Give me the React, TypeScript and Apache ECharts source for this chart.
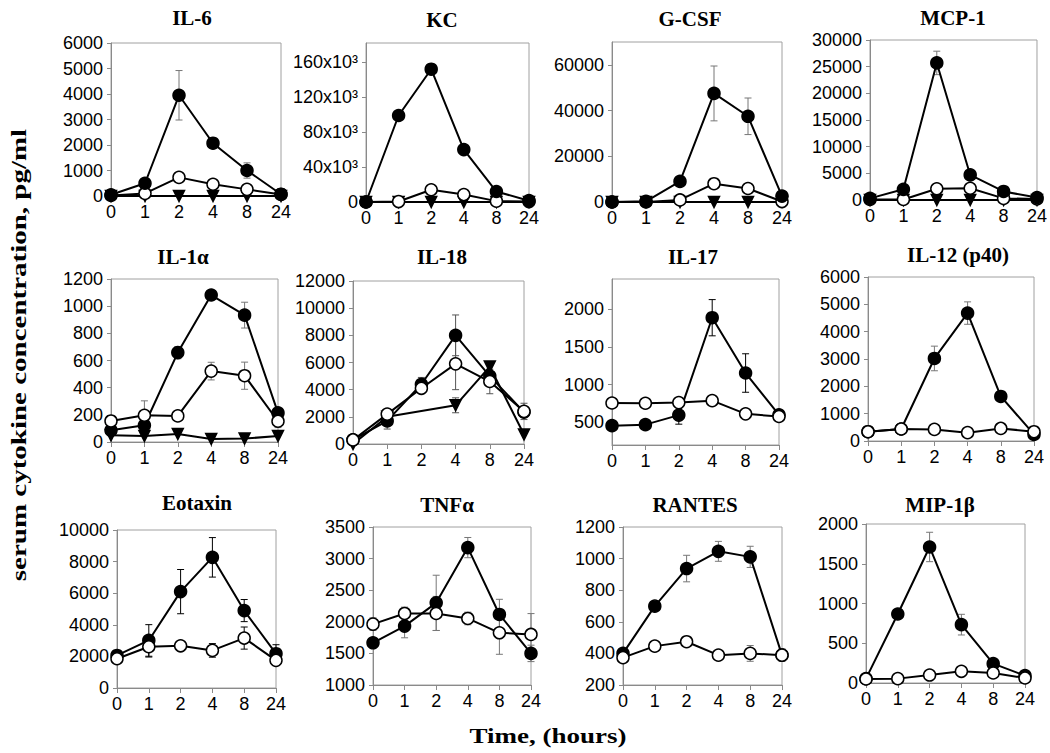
import React, { useEffect, useRef } from "react";
import * as echarts from "echarts";

const hours = ["0", "1", "2", "4", "8", "24"];

// IL-6
const il6Filled = [50, 500, 3950, 2070, 1000, 70];
const il6FilledErr = [0, 0, 970, 0, 300, 0];
const il6Open = [20, 100, 730, 460, 260, 60];
const il6Tri = [0, 0, 0, 0, 0, 0];
// KC
const kcFilled = [0, 99000, 152000, 60000, 12000, 1500];
const kcOpen = [0, 500, 14000, 8500, 1000, 500];
const kcTri = [0, 0, 0, 0, 0, 0];
// G-CSF
const gcsfFilled = [0, 300, 9000, 47500, 37500, 2600];
const gcsfFilledErr = [0, 0, 0, 12000, 8000, 0];
const gcsfOpen = [0, 0, 900, 8000, 5900, 200];
const gcsfTri = [0, 0, 0, 0, 0, 0];
// MCP-1
const mcpFilled = [300, 2000, 25700, 4700, 1600, 450];
const mcpFilledErr = [0, 0, 2200, 0, 0, 0];
const mcpOpen = [100, 100, 2100, 2200, 300, 200];
const mcpTri = [0, 0, 0, 0, 0, 0];
// IL-1a
const il1aFilled = [86, 123, 658, 1082, 934, 214];
const il1aFilledErr = [0, 0, 45, 0, 95, 0];
const il1aOpen = [155, 197, 192, 522, 488, 153];
const il1aOpenErr = [0, 106, 0, 65, 100, 47];
const il1aTri = [49, 44, 59, 22, 25, 44];
// IL-18
const il18Filled = [300, 1700, 4400, 8000, 5000, 2350];
const il18FilledErr = [0, 600, 500, 1500, 0, 0];
const il18Open = [300, 2200, 4100, 5900, 4600, 2400];
const il18OpenErr = [0, 0, 0, 1900, 900, 600];
const il18Tri = [0, 2000, null, 2850, 5700, 700];
const il18TriErr = [0, 0, 0, 550, 0, 0];
// IL-17
const il17Filled = [456, 470, 596, 1887, 1154, 600];
const il17FilledErr = [0, 0, 120, 240, 255, 60];
const il17Open = [757, 753, 762, 788, 613, 578];
const il17OpenErr = [0, 0, 0, 50, 60, 60];
// IL-12 (p40)
const il12Filled = [340, 440, 3020, 4680, 1630, 240];
const il12FilledErr = [0, 0, 450, 410, 0, 0];
const il12Open = [340, 440, 425, 305, 460, 340];
// Eotaxin
const eotFilled = [2060, 3010, 6100, 8270, 4900, 2170];
const eotFilledErr = [0, 1000, 1400, 1250, 700, 570];
const eotOpen = [1850, 2610, 2670, 2380, 3160, 1750];
const eotOpenErr = [0, 650, 0, 430, 700, 0];
// TNFa
const tnfFilled = [1668, 1932, 2300, 3174, 2116, 1500];
const tnfFilledErr = [0, 185, 437, 160, 240, 130];
const tnfOpen = [1963, 2132, 2132, 2053, 1826, 1800];
const tnfOpenErr = [100, 100, 270, 100, 340, 330];
// RANTES
const rantesFilled = [400, 699, 937, 1046, 1011, 389];
const rantesFilledErr = [0, 0, 84, 63, 67, 0];
const rantesOpen = [373, 446, 474, 389, 400, 389];
const rantesOpenErr = [0, 0, 0, 0, 50, 40];
// MIP-1b
const mipFilled = [55, 868, 1711, 734, 243, 92];
const mipFilledErr = [0, 0, 185, 130, 0, 0];
const mipOpen = [50, 55, 100, 147, 126, 63];

const yTitle = "serum cytokine concentration, pg/ml";
const xTitle = "Time, (hours)";

const plain = (v: number) => String(v);
const kcFmt = (v: number) => (v === 0 ? "0" : `${v / 1000}x10³`);

type Panel = {
  title: string;
  filled: (number | null)[];
  filledErr?: number[];
  open: (number | null)[];
  openErr?: number[];
  tri?: (number | null)[];
  triErr?: number[];
  min: number;
  max: number;
  interval: number;
  ticks?: number[];
  fmt: (v: number) => string;
  errColor: string;
  openOnTop: boolean;
};

const panels: Panel[] = [
  { title: "IL-6", filled: il6Filled, filledErr: il6FilledErr, open: il6Open, tri: il6Tri, min: 0, max: 6000, interval: 1000, fmt: plain, errColor: "#777", openOnTop: false },
  { title: "KC", filled: kcFilled, open: kcOpen, tri: kcTri, min: 0, max: 182000, interval: 40000, fmt: kcFmt, errColor: "#777", openOnTop: false },
  { title: "G-CSF", filled: gcsfFilled, filledErr: gcsfFilledErr, open: gcsfOpen, tri: gcsfTri, min: 0, max: 70000, interval: 20000, fmt: plain, errColor: "#777", openOnTop: false },
  { title: "MCP-1", filled: mcpFilled, filledErr: mcpFilledErr, open: mcpOpen, tri: mcpTri, min: 0, max: 30000, interval: 5000, fmt: plain, errColor: "#777", openOnTop: false },
  { title: "IL-1α", filled: il1aFilled, filledErr: il1aFilledErr, open: il1aOpen, openErr: il1aOpenErr, tri: il1aTri, min: 0, max: 1200, interval: 200, fmt: plain, errColor: "#777", openOnTop: true },
  { title: "IL-18", filled: il18Filled, filledErr: il18FilledErr, open: il18Open, openErr: il18OpenErr, tri: il18Tri, triErr: il18TriErr, min: 0, max: 12000, interval: 2000, fmt: plain, errColor: "#555", openOnTop: true },
  { title: "IL-17", filled: il17Filled, filledErr: il17FilledErr, open: il17Open, openErr: il17OpenErr, min: 200, max: 2400, interval: 500, ticks: [500, 1000, 1500, 2000], fmt: plain, errColor: "#000", openOnTop: true },
  { title: "IL-12 (p40)", filled: il12Filled, filledErr: il12FilledErr, open: il12Open, min: 0, max: 6000, interval: 1000, fmt: plain, errColor: "#777", openOnTop: true },
  { title: "Eotaxin", filled: eotFilled, filledErr: eotFilledErr, open: eotOpen, openErr: eotOpenErr, min: 0, max: 10000, interval: 2000, fmt: plain, errColor: "#000", openOnTop: true },
  { title: "TNFα", filled: tnfFilled, filledErr: tnfFilledErr, open: tnfOpen, openErr: tnfOpenErr, min: 1000, max: 3500, interval: 500, fmt: plain, errColor: "#777", openOnTop: true },
  { title: "RANTES", filled: rantesFilled, filledErr: rantesFilledErr, open: rantesOpen, openErr: rantesOpenErr, min: 200, max: 1200, interval: 200, fmt: plain, errColor: "#777", openOnTop: true },
  { title: "MIP-1β", filled: mipFilled, filledErr: mipFilledErr, open: mipOpen, min: 0, max: 2000, interval: 500, fmt: plain, errColor: "#777", openOnTop: true },
];

// layout: plot-area boxes and title centres (pixels)
const layout = [
  { x: 111, y: 43, w: 170, h: 153, tx: 192, ty: 18 },
  { x: 366, y: 43, w: 163, h: 159, tx: 442, ty: 20 },
  { x: 612, y: 42, w: 170, h: 160, tx: 690, ty: 19 },
  { x: 870, y: 40, w: 167, h: 160, tx: 953, ty: 18 },
  { x: 111, y: 279, w: 167, h: 163, tx: 183, ty: 257 },
  { x: 353, y: 281, w: 171, h: 163, tx: 442, ty: 257 },
  { x: 612, y: 279, w: 167, h: 166, tx: 693, ty: 257 },
  { x: 868, y: 277, w: 166, h: 164, tx: 958, ty: 255 },
  { x: 117, y: 530, w: 159, h: 158, tx: 197, ty: 503 },
  { x: 373, y: 527, w: 158, h: 158, tx: 447, ty: 505 },
  { x: 623, y: 527, w: 159, h: 158, tx: 695, ty: 505 },
  { x: 866, y: 524, w: 159, h: 159, tx: 940, ty: 505 },
];

const SANS = '"Liberation Sans", Arial, sans-serif';
const SERIF = '"Liberation Serif", "Times New Roman", serif';
const AXIS_GRAY = "#8a8a8a";

function errSeries(i: number, vals: (number | null)[], errs: number[] | undefined, color: string) {
  if (!errs) return null;
  const data = vals
    .map((v, j) => [j, v, errs[j]])
    .filter((d) => d[1] !== null && (d[2] as number) > 0);
  if (!data.length) return null;
  return {
    type: "custom",
    xAxisIndex: i,
    yAxisIndex: i,
    silent: true,
    z: 1,
    encode: { x: 0, y: 1 },
    data,
    renderItem: (_p: any, api: any) => {
      const x = api.value(0);
      const y = api.value(1);
      const e = api.value(2);
      const top = api.coord([x, y + e]);
      const bot = api.coord([x, y - e]);
      const st = { stroke: color, lineWidth: 1 };
      const cap = 3.5;
      return {
        type: "group",
        children: [
          { type: "line", shape: { x1: top[0], y1: top[1], x2: bot[0], y2: bot[1] }, style: st },
          { type: "line", shape: { x1: top[0] - cap, y1: top[1], x2: top[0] + cap, y2: top[1] }, style: st },
          { type: "line", shape: { x1: bot[0] - cap, y1: bot[1], x2: bot[0] + cap, y2: bot[1] }, style: st },
        ],
      };
    },
  };
}

function lineSeries(i: number, data: (number | null)[], kind: "filled" | "open" | "tri", z: number) {
  return {
    type: "line",
    xAxisIndex: i,
    yAxisIndex: i,
    data,
    silent: true,
    connectNulls: true,
    z,
    symbol: kind === "tri" ? "triangle" : "circle",
    symbolRotate: kind === "tri" ? 180 : 0,
    symbolSize: kind === "tri" ? 11 : 12,
    showAllSymbol: true,
    lineStyle: { color: "#000", width: 2 },
    itemStyle: {
      color: kind === "open" ? "#fff" : "#000",
      borderColor: "#000",
      borderWidth: 1.5,
    },
  };
}

export default function App() {
  const ref = useRef<HTMLDivElement>(null);
  useEffect(() => {
    if (!ref.current) return;
    const chart = echarts.init(ref.current, undefined, { renderer: "svg" });

    const grid = layout.map((l) => ({
      left: l.x,
      top: l.y,
      width: l.w,
      height: l.h,
      show: true,
      borderColor: "#a0a0a0",
      borderWidth: 1,
      backgroundColor: "transparent",
    }));

    const xAxis = panels.map((_p, i) => ({
      type: "category",
      gridIndex: i,
      data: hours,
      boundaryGap: false,
      axisLine: { show: true, lineStyle: { color: AXIS_GRAY, width: 1 } },
      axisTick: { show: true, length: 5, interval: 0, lineStyle: { color: AXIS_GRAY } },
      axisLabel: { interval: 0, margin: 7, color: "#000", fontSize: 18, fontFamily: SANS },
      splitLine: { show: false },
    }));

    const yAxis = panels.map((p, i) => {
      const base: any = {
        type: "value",
        gridIndex: i,
        min: p.min,
        max: p.max,
        axisLine: { show: true, lineStyle: { color: AXIS_GRAY, width: 1 } },
        axisTick: { show: true, length: 4, lineStyle: { color: AXIS_GRAY } },
        axisLabel: {
          margin: 8,
          color: "#000",
          fontSize: 18,
          fontFamily: SANS,
          formatter: p.fmt,
          showMaxLabel: p.max % p.interval === 0,
          showMinLabel: true,
        },
        splitLine: { show: false },
      };
      if (p.ticks) {
        base.axisLabel.customValues = p.ticks;
        base.axisTick.customValues = p.ticks;
        base.axisLabel.showMaxLabel = true;
      } else {
        base.interval = p.interval;
      }
      return base;
    });

    const series: any[] = [];
    panels.forEach((p, i) => {
      const errs = [
        errSeries(i, p.filled, p.filledErr, p.errColor),
        errSeries(i, p.open, p.openErr, p.errColor),
        p.tri ? errSeries(i, p.tri, p.triErr, p.errColor) : null,
      ];
      errs.forEach((e) => e && series.push(e));
      if (p.tri) series.push(lineSeries(i, p.tri, "tri", 2));
      series.push(lineSeries(i, p.filled, "filled", p.openOnTop ? 3 : 4));
      series.push(lineSeries(i, p.open, "open", p.openOnTop ? 4 : 3));
    });

    const textStyle = (text: string, size: number) => ({
      text,
      fill: "#000",
      font: `bold ${size}px ${SERIF}`,
      align: "center",
      verticalAlign: "middle",
      textAlign: "center",
      textVerticalAlign: "middle",
    });

    const graphic: any[] = panels.map((p, i) => ({
      type: "text",
      x: layout[i].tx,
      y: layout[i].ty,
      silent: true,
      style: textStyle(p.title, 21),
    }));
    graphic.push({
      type: "text",
      x: 19,
      y: 355,
      rotation: Math.PI / 2,
      scaleX: 1.45,
      silent: true,
      style: textStyle(yTitle, 20),
    });
    graphic.push({
      type: "text",
      x: 548,
      y: 736,
      scaleX: 1.35,
      silent: true,
      style: textStyle(xTitle, 20),
    });

    chart.setOption({
      animation: false,
      backgroundColor: "#fff",
      grid,
      xAxis,
      yAxis,
      series,
      graphic,
    });
    return () => chart.dispose();
  }, []);

  return (
    <div
      ref={ref}
      style={{ position: "absolute", left: 0, top: 0, width: 1050, height: 753 }}
    />
  );
}
